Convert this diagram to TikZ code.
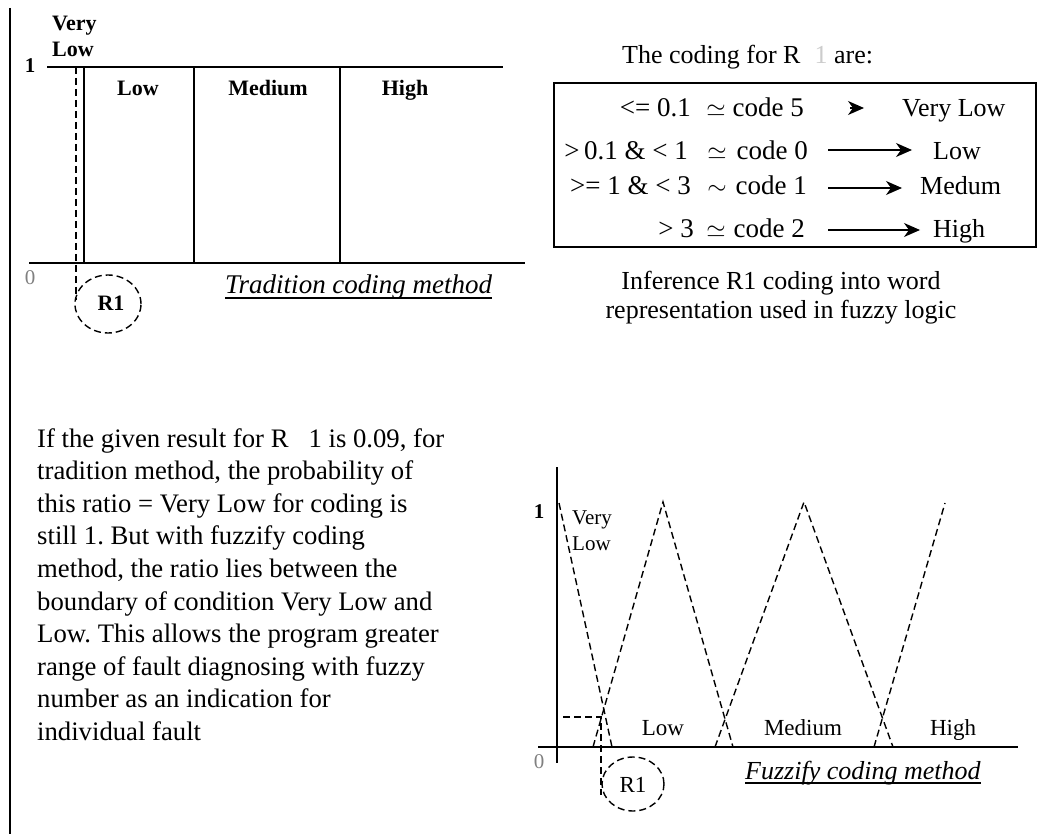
\documentclass[tikz,border=0pt]{standalone}
\usepackage{fontspec}
\setmainfont{Liberation Serif}
\usetikzlibrary{arrows.meta}
\frenchspacing
\begin{document}
\begin{tikzpicture}[x=1pt,y=-1pt,
  axis/.style={line width=1.6pt},
  dsh/.style={line width=1.4pt,dash pattern=on 7pt off 4pt},
  txt/.style={inner sep=0pt,font=\fontsize{26}{32.6}\selectfont},
  ptxt/.style={inner sep=0pt,font=\fontsize{26.7}{32.6}\selectfont},
  ctxt/.style={inner sep=0pt,font=\fontsize{27}{30}\selectfont},
  ttl/.style={inner sep=0pt,font=\fontsize{26}{29}\selectfont\itshape},
  lbl/.style={inner sep=0pt,font=\fontsize{22}{24}\selectfont\bfseries},
  flbl/.style={inner sep=0pt,font=\fontsize{23}{26}\selectfont},
  num/.style={inner sep=0pt,font=\fontsize{21}{24}\selectfont},
  arr/.style={line width=1.4pt,-{Stealth[length=16pt,width=14pt,inset=5pt]}},
  uline/.style={line width=1.3pt},
]
\useasboundingbox (0,0) rectangle (1041,834);
% left border
\draw[axis] (10,8) -- (10,834);

% ---------- traditional coding chart ----------
\draw[axis] (47,67) -- (503,67);
\draw[axis] (29,263) -- (525,263);
\draw[axis] (84,67) -- (84,263);
\draw[axis] (194,67) -- (194,263);
\draw[axis] (340,67) -- (340,263);
\draw[dsh] (76,67) -- (76,300);
\draw[dsh] (108,304) ellipse [x radius=33pt, y radius=29pt];
\node[lbl,anchor=base west] (tvery) at (52,31) {Very};
\node[lbl,anchor=base west] (tlow) at (52,57) {Low};
\node[num,font=\fontsize{21}{24}\selectfont\bfseries,anchor=base] (tone) at (30,73) {1};
\node[num,text=gray,anchor=base] (tzero) at (30,285) {0};
\node[lbl,anchor=base] (tlow2) at (138,96) {Low};
\node[lbl,anchor=base] (tmed) at (268,96) {Medium};
\node[lbl,anchor=base] (thigh) at (405,96) {High};
\node[lbl,anchor=base] (tr1) at (111,310) {R1};
\node[ttl,font=\fontsize{27}{29}\selectfont\itshape,anchor=base west] (ttitle) at (225,294) {Tradition coding method};
\draw[uline] ([yshift=-4pt]ttitle.base west) -- ([yshift=-4pt]ttitle.base east);

% ---------- coding table ----------
\node[txt,anchor=base west] (ctitle) at (622,64) {The coding for R\hspace{14pt}{\color{gray!40}1} are:};
\draw[line width=1.6pt] (554,83) rectangle (1036,247);
% left parts
\node[ctxt,anchor=base east] (l1) at (691,117) {<= 0.1};
\node[ctxt,anchor=base east] (l2) at (688,160) {>\,0.1 \& < 1};
\node[ctxt,anchor=base east] (l3) at (691,195) {>= 1 \& < 3};
\node[ctxt,anchor=base east] (l4) at (694,238) {> 3};
% relation symbols
\node[ctxt,anchor=base] (s1) at (716,117) {$\simeq$};
\node[ctxt,anchor=base] (s2) at (717,160) {$\simeq$};
\node[ctxt,anchor=base] (s3) at (717,195) {$\sim$};
\node[ctxt,anchor=base] (s4) at (716,238) {$\simeq$};
% codes
\node[ctxt,anchor=base east] (c1) at (804,117) {code 5};
\node[ctxt,anchor=base east] (c2) at (808,160) {code 0};
\node[ctxt,anchor=base east] (c3) at (807,195) {code 1};
\node[ctxt,anchor=base east] (c4) at (805,238) {code 2};
% words
\node[txt,anchor=base west] (w1) at (902,117) {Very Low};
\node[txt,anchor=base west] (w2) at (933,160) {Low};
\node[txt,anchor=base west] (w3) at (920,195) {Medum};
\node[txt,anchor=base west] (w4) at (933,238) {High};
\coordinate (a1) at (850,108);
\coordinate (a2) at (828,150);
\coordinate (a3) at (828,188);
\coordinate (a4) at (828,230);
\draw[arr,shorten >=38pt] (a1) -- (a1 -| w1.west);
\draw[arr,shorten >=21pt] (a2) -- (a2 -| w2.west);
\draw[arr,shorten >=18pt] (a3) -- (a3 -| w3.west);
\draw[arr,shorten >=13pt] (a4) -- (a4 -| w4.west);
\node[txt,font=\fontsize{26}{29}\selectfont,align=center,anchor=north] (cap) at (781,269)
  {\strut Inference R1 coding into word\\representation used in fuzzy logic};

% ---------- paragraph ----------
\node[ptxt,anchor=north west,align=left] (para) at (37,424) {\strut If the given result for R\hspace{20pt}1 is 0.09, for\\
tradition method, the probability of\\
this ratio = Very Low for coding is\\
still 1. But with fuzzify coding\\
method, the ratio lies between the\\
boundary of condition Very Low and\\
Low. This allows the program greater\\
range of fault diagnosing with fuzzy\\
number as an indication for\\
individual fault};

% ---------- fuzzy coding chart ----------
\draw[axis] (557,467) -- (557,763);
\draw[axis] (538,747) -- (1018,747);
\draw[dsh] (559,503) -- (612,747);
\draw[dsh] (593,747) -- (663,502) -- (733,747);
\draw[dsh] (715,747) -- (804,502) -- (893,747);
\draw[dsh] (874,747) -- (945,503);
\draw[dsh] (563,717) -- (601,717) -- (601,795);
\draw[dsh] (633,784) ellipse [x radius=31pt, y radius=27pt];
\node[num,font=\fontsize{21}{24}\selectfont\bfseries,anchor=base] (fone) at (539,518) {1};
\node[num,text=gray,anchor=base] (fzero) at (539,768) {0};
\node[num,anchor=base west] (fvery) at (572,524) {Very};
\node[num,anchor=base west] (flow) at (572,550) {Low};
\node[flbl,anchor=base] (flow2) at (663,735) {Low};
\node[flbl,anchor=base] (fmed) at (803,735) {Medium};
\node[flbl,anchor=base] (fhigh) at (953,735) {High};
\node[flbl,anchor=base] (fr1) at (633,792) {R1};
\node[ttl,anchor=base west] (ftitle) at (745,779) {Fuzzify coding method};
\draw[uline] ([yshift=-4pt]ftitle.base west) -- ([yshift=-4pt]ftitle.base east);
\end{tikzpicture}
\end{document}
